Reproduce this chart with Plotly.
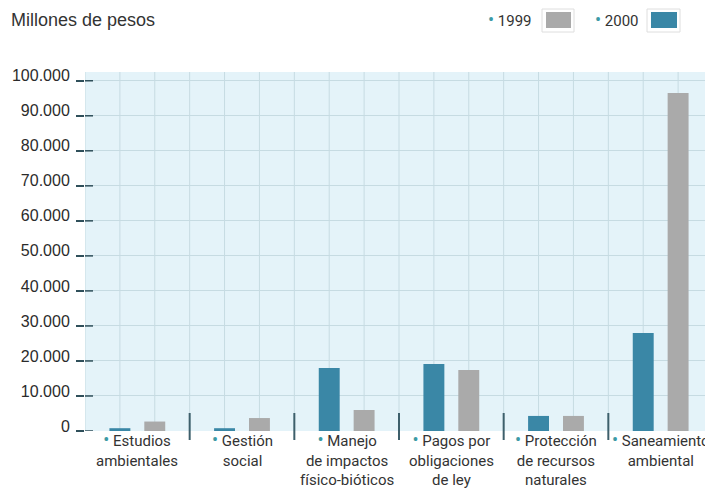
import plotly.graph_objects as go

categories = ["Estudios ambientales", "Gestión social", "Manejo de impactos físico-bióticos",
              "Pagos por obligaciones de ley", "Protección de recursos naturales", "Saneamiento ambiental"]
tick_lines = [["Estudios", "ambientales"], ["Gestión", "social"], ["Manejo", "de impactos", "físico-bióticos"],
              ["Pagos por", "obligaciones", "de ley"], ["Protección", "de recursos", "naturales"],
              ["Saneamiento", "ambiental"]]
values_2000 = [800, 800, 18000, 19100, 4300, 28000]
values_1999 = [2700, 3700, 6000, 17400, 4300, 96500]
y_ticks = [0, 10000, 20000, 30000, 40000, 50000, 60000, 70000, 80000, 90000, 100000]
title_text = "Millones de pesos"
legend_labels = ["1999", "2000"]

# the page body has an 8px margin, so the figure is drawn at page offset (8, 8)
OFF = 8
W, H = 705, 480
L, R, T, B = 77, 0, 64, 57
PW, PH = W - L - R, H - T - B

def px(x_page):
    return (x_page - OFF - L) / PW

def py(y_page):
    return (H - B - (y_page - OFF)) / PH

BULLET = "#3c9aa5"
BLUE = "#3a87a6"
GRAY = "#aaaaaa"
FONT_X = "Roboto, Liberation Sans, Arial, sans-serif"
FONT = "Liberation Sans, Arial, sans-serif"

def bullet(text):
    return f"<span style='color:{BULLET};font-size:18px'>•</span> {text}"

fig = go.Figure()
fig.add_trace(go.Bar(x=categories, y=values_2000, name="2000", marker=dict(color=BLUE, line=dict(width=0)),
                     width=0.2, offset=-1/6 - 0.1, showlegend=False))
fig.add_trace(go.Bar(x=categories, y=values_1999, name="1999", marker=dict(color=GRAY, line=dict(width=0)),
                     width=0.2, offset=1/6 - 0.1, showlegend=False))

shapes = []
n = len(categories)
# vertical grid lines every third of a category
for k in range(3 * n + 1):
    shapes.append(dict(type="line", xref="x", yref="paper", x0=-0.5 + k / 3, x1=-0.5 + k / 3,
                       y0=0, y1=1, line=dict(color="#c6dbe2", width=1), layer="below"))
# category separators
for k in range(n - 1):
    shapes.append(dict(type="line", xref="x", yref="paper", x0=k + 0.5, x1=k + 0.5,
                       y0=py(440), y1=py(413), line=dict(color="#3d5f6b", width=2), layer="above"))
# inner part of y tick dashes
for v in y_ticks:
    shapes.append(dict(type="line", xref="paper", yref="y", x0=0, x1=px(93), y0=v, y1=v,
                       line=dict(color="#2f4f5a", width=1.5), layer="above"))
# legend swatches
for (x0, x1, color) in [(542, 574, GRAY), (647, 680, BLUE)]:
    shapes.append(dict(type="rect", xref="paper", yref="paper", x0=px(x0), x1=px(x1), y0=py(32), y1=py(9),
                       fillcolor="white", line=dict(color="#dedede", width=1)))
    shapes.append(dict(type="rect", xref="paper", yref="paper", x0=px(x0 + 4), x1=px(x1 - 3), y0=py(28), y1=py(12),
                       fillcolor=color, line=dict(width=0)))

annotations = [
    dict(text=title_text, xref="paper", yref="paper", x=px(9), y=py(8), xanchor="left", yanchor="top",
         showarrow=False, font=dict(family=FONT, size=18, color="#333333")),
    dict(text=bullet(legend_labels[0]), xref="paper", yref="paper",
         x=px(486), y=py(19), xanchor="left", yanchor="middle", showarrow=False,
         font=dict(family=FONT_X, size=15, color="#333333")),
    dict(text=bullet(legend_labels[1]), xref="paper", yref="paper",
         x=px(593), y=py(19), xanchor="left", yanchor="middle", showarrow=False,
         font=dict(family=FONT_X, size=15, color="#333333")),
]
# category labels
for cat, lines in zip(categories, tick_lines):
    annotations.append(dict(text=bullet(lines[0]) + "<br>" + "<br>".join(lines[1:]),
                            xref="x", yref="paper", x=cat, y=py(427), xanchor="center", yanchor="top",
                            align="center", showarrow=False,
                            font=dict(family=FONT_X, size=15, color="#333333")))

fig.update_layout(
    width=W, height=H,
    margin=dict(l=L, r=R, t=T, b=B),
    paper_bgcolor="white",
    plot_bgcolor="#e4f3f9",
    separators=",.",
    barmode="overlay",
    shapes=shapes,
    annotations=annotations,
    xaxis=dict(tickmode="array", tickvals=categories, showticklabels=False, showgrid=False,
               zeroline=False, showline=False, ticks="", range=[-0.5, n - 0.5], automargin=False),
    yaxis=dict(range=[0, 102500], tickmode="array", tickvals=y_ticks, tickformat=",d",
               showgrid=True, gridcolor="#c6dbe2", gridwidth=1, zeroline=False, showline=False,
               ticks="outside", ticklen=8, tickwidth=1.5, tickcolor="#2f4f5a", automargin=False,
               ticklabelstandoff=3, ticklabelshift=-5,
               tickfont=dict(family=FONT, size=16, color="#2b2b2b")),
)

fig.write_html("out.html")
